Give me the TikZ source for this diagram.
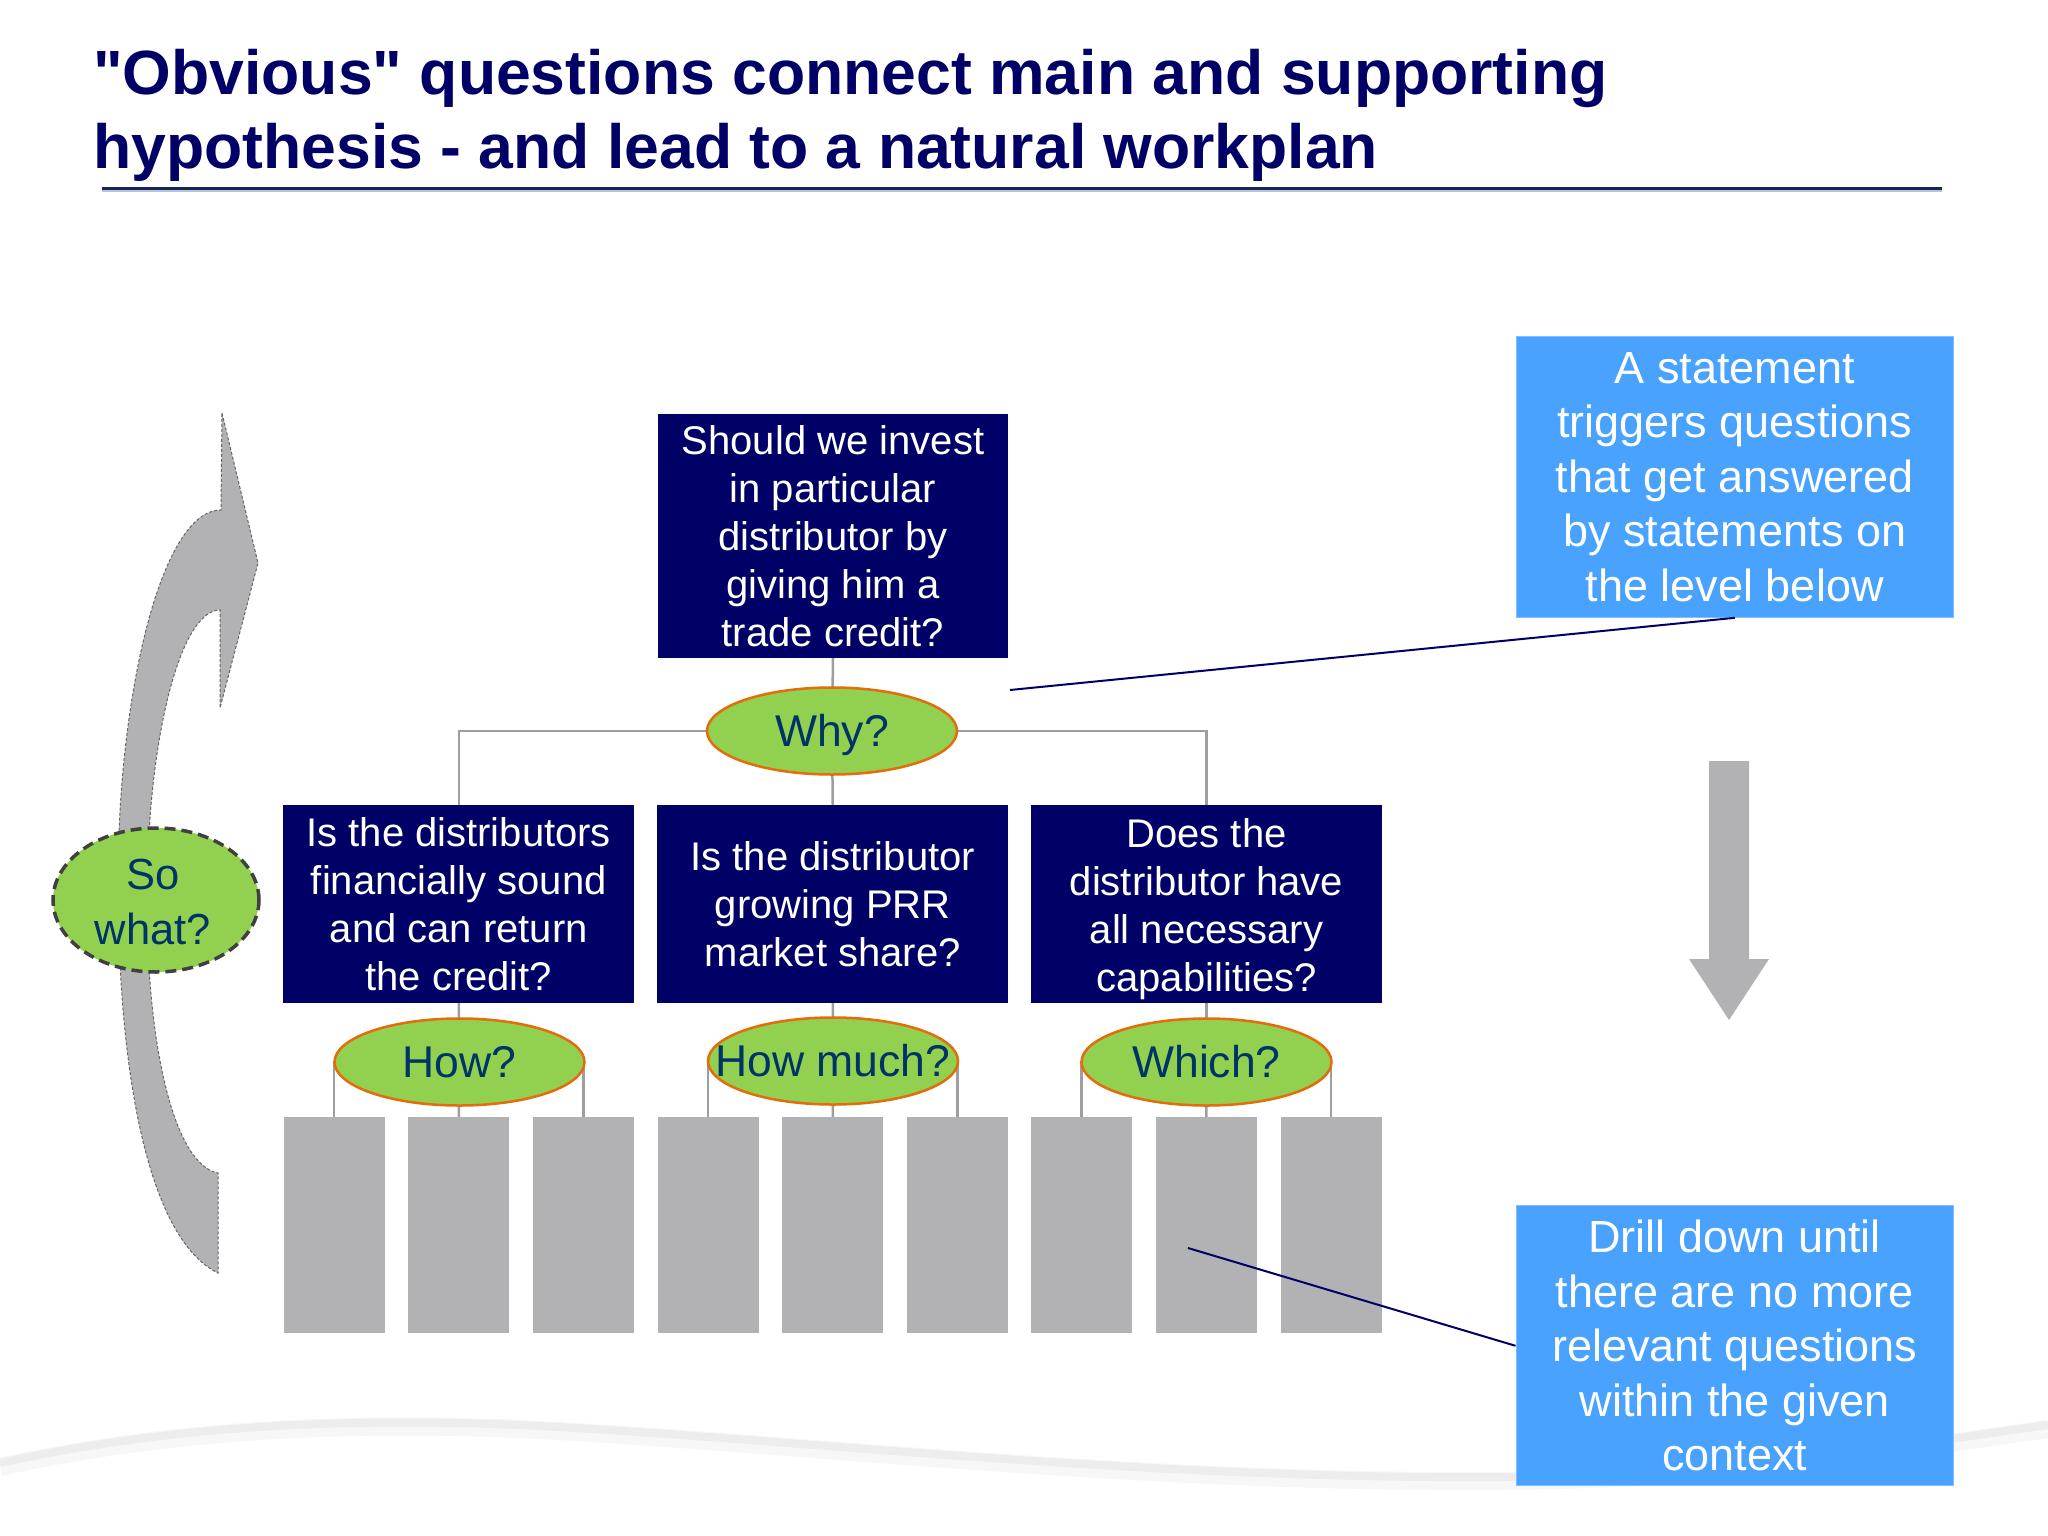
\documentclass[tikz,border=0pt]{standalone}
\usepackage{fontspec}
\setmainfont{Liberation Sans}
\newfontfamily\titlefont{Liberation Sans}
\usetikzlibrary{shapes.geometric}
\definecolor{navy}{RGB}{0,0,102}
\definecolor{rulenavy}{RGB}{20,40,90}
\definecolor{ruleshadow}{RGB}{184,196,214}
\definecolor{qgreen}{RGB}{146,208,80}
\definecolor{qorange}{RGB}{228,108,10}
\definecolor{qtext}{RGB}{0,51,102}
\definecolor{cblue}{RGB}{74,162,255}
\definecolor{lgray}{RGB}{178,177,180}
\definecolor{cgray}{RGB}{158,158,158}
\pgfdeclarelayer{bg}
\pgfsetlayers{bg,main}
\begin{document}
\begin{tikzpicture}[x=1pt,y=-1pt,
  qbox/.style={fill=navy,text=white,inner sep=0pt,align=center,minimum width=351pt,minimum height=198pt,font=\fontsize{40}{48}\selectfont},
  qell/.style={ellipse,fill=qgreen,draw=qorange,line width=2.5pt,minimum width=250pt,minimum height=87pt,inner sep=0pt},
  qlab/.style={text=qtext,inner sep=0pt,font=\fontsize{44.5}{53}\selectfont,text height=31.8pt,text depth=0pt},
  leaf/.style={fill=lgray,minimum width=101pt,minimum height=216pt,inner sep=0pt},
  conn/.style={draw=cgray,line width=2.5pt},
  callout/.style={fill=cblue,draw=cblue!70!white,line width=1pt,text=white,align=center,inner sep=0pt,minimum width=437.5pt,minimum height=281pt,font=\fontsize{45}{54.5}\selectfont},
  pointer/.style={draw=navy,line width=2pt},
  titletext/.style={text=navy,inner sep=0pt,anchor=base west,font=\titlefont\fontsize{62.5}{73}\selectfont\bfseries},
]
\useasboundingbox (0,0) rectangle (2048,1536);

% title
\node[titletext] (title1) at (93,95) {"Obvious" questions connect main and supporting};
\node[titletext] (title2) at (93,168) {hypothesis - and lead to a natural workplan};
\draw[draw=ruleshadow,line width=2.3pt] (102,191.2) -- (1942,191.2);
\draw[draw=rulenavy,line width=3.3pt] (102,188.3) -- (1942,188.3);

% curved "So what" arrow
\draw[fill=lgray,draw=black!60,line width=1pt,dash pattern=on 3pt off 2pt]
  (222,413) -- (258,563) -- (220,708) -- (220,610)
  .. controls (180,610) and (147,740) .. (147,900)
  .. controls (147,1050) and (175,1165) .. (218,1173)
  -- (218,1273)
  .. controls (150,1240) and (118,1080) .. (118,880)
  .. controls (118,700) and (160,510) .. (221,510) -- cycle;

% main question
\node[qbox,minimum width=350pt,minimum height=244pt] (q0) at (833,536)
  {Should we invest\\in particular\\distributor by\\giving him a\\trade credit?};
\node[qell] (why) at (832,731) {};
\node[qlab] (whyt) at (why) {Why?};

% level 2
\node[qbox] (q1) at (458.75,904) {Is the distributors\\financially sound\\and can return\\the credit?};
\node[qbox] (q2) at (832.75,904) {Is the distributor\\growing PRR\\market share?};
\node[qbox] (q3) at (1206.5,904) {Does the\rule{0pt}{39pt}\\distributor have\\all necessary\\capabilities?};

% level 3 ellipses
\node[qell] (how) at (459.5,1062) {};
\node[qlab] (howt) at (how) {How?};
\node[qell] (howmuch) at (833,1061) {};
\node[qlab] (howmucht) at (howmuch) {How much?};
\node[qell] (which) at (1206.5,1062) {};
\node[qlab] (whicht) at (which) {Which?};

% leaves
\foreach \i/\x in {1/334,2/458.75,3/583.5,4/708,5/832.75,6/957.5,7/1081.5,8/1206.25,9/1331}
  \node[leaf] (r\i) at (\x,1225) {};

% so what ellipse
\node[ellipse,fill=qgreen,draw=black!75,line width=3.5pt,dash pattern=on 11pt off 6pt,minimum width=206pt,minimum height=144pt,inner sep=0pt] (sowhat) at (156,900) {};
\node[text=qtext,inner sep=0pt,align=center,font=\fontsize{43.5}{55}\selectfont] (sowhatt) at (153,902) {So\\what?};

% down arrow
\fill[lgray] (1709,761) -- (1749,761) -- (1749,959) -- (1769,959) -- (1729,1020) -- (1689,959) -- (1709,959) -- cycle;

% callouts
\node[callout] (c1) at (1734.75,476.8) {A statement\\triggers questions\\that get answered\\by statements on\\the level below};
\node[callout,minimum height=280pt] (c2) at (1734.75,1345.8) {Drill down until\\there are no more\\relevant questions\\within the given\\context};
\coordinate (p1) at (1010,690);
\coordinate (p2) at (1188,1248);
\draw[pointer] (c1.south) -- (p1);
\draw[pointer] (c2.west) -- (p2);

\begin{pgfonlayer}{bg}
  \fill[white] (0,0) rectangle (2048,1536);
  % bottom swoosh shadow
  \draw[draw=black!3,line width=18pt] (0,1467) .. controls (150,1434) and (300,1424) .. (457,1427) .. controls (700,1432) and (1100,1484) .. (1500,1481) .. controls (1750,1479) and (1900,1449) .. (2048,1429);
  \draw[draw=black!7,line width=8pt] (0,1463) .. controls (150,1430) and (300,1420) .. (457,1423) .. controls (700,1428) and (1100,1480) .. (1500,1477) .. controls (1750,1475) and (1900,1445) .. (2048,1425);
  % connectors
  \draw[conn] (q0.south) -- (why.center);
  \draw[conn] (why.center) -| (q1.north);
  \draw[conn] (why.center) -- (q2.north);
  \draw[conn] (why.center) -| (q3.north);
  \draw[conn] (q1.south) -- (how.center);
  \draw[conn] (q2.south) -- (howmuch.center);
  \draw[conn] (q3.south) -- (which.center);
  \draw[conn] (how.center) -| (r1.north);
  \draw[conn] (how.center) -- (r2.north);
  \draw[conn] (how.center) -| (r3.north);
  \draw[conn] (howmuch.center) -| (r4.north);
  \draw[conn] (howmuch.center) -- (r5.north);
  \draw[conn] (howmuch.center) -| (r6.north);
  \draw[conn] (which.center) -| (r7.north);
  \draw[conn] (which.center) -- (r8.north);
  \draw[conn] (which.center) -| (r9.north);
\end{pgfonlayer}
\end{tikzpicture}
\end{document}
